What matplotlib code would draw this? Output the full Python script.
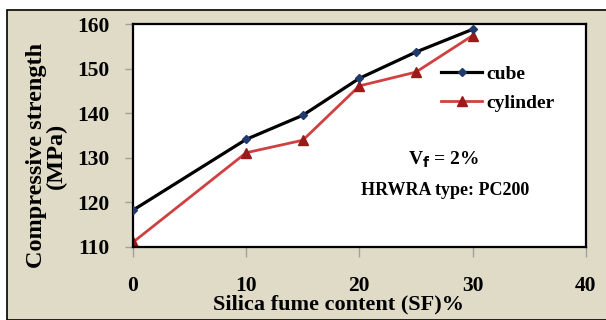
import matplotlib
matplotlib.use("Agg")
import matplotlib.pyplot as plt
from matplotlib.patches import Rectangle

# silica fume content (%) and compressive strength (MPa)
sf = [0, 10, 15, 20, 25, 30]
cube = [118.2, 134.1, 139.5, 147.8, 153.7, 158.8]
cylinder = [111.0, 131.1, 133.9, 146.1, 149.2, 157.4]

x_ticks = [0, 10, 20, 30, 40]
y_ticks = [110, 120, 130, 140, 150, 160]

bg = "#dfdbc6"
plt.rcParams["font.family"] = ["Liberation Serif", "DejaVu Serif"]
plt.rcParams["font.weight"] = "bold"

fig = plt.figure(figsize=(6.06, 3.20), dpi=100, facecolor="white")
# beige panel with black frame (top & left visible)
fig.patches.append(Rectangle((7 / 606, 0), 1.0, 1 - 10 / 320, transform=fig.transFigure,
                             facecolor=bg, edgecolor="black", linewidth=1.2, zorder=-10))

ax = fig.add_axes([133 / 606, 1 - 246.7 / 320, (585.7 - 133) / 606, (246.7 - 24) / 320])
ax.set_facecolor("white")

ax.plot(sf, cube, color="black", lw=2.3, marker="D", ms=4.5,
        mfc="#1f3a6b", mec="#1f3a6b", label="cube", zorder=3)
ax.plot(sf, cylinder, color="#d04040", lw=2.0, marker="^", ms=6.5,
        mfc="#9a1a1a", mec="#9a1a1a", label="cylinder", zorder=2)

ax.set_xlim(0, 40)
ax.set_ylim(110, 160)
ax.set_xticks(x_ticks)
ax.set_yticks(y_ticks)
ax.tick_params(direction="out", length=7, width=1, color="#a0a0a0",
               labelsize=15.5, pad=14)
ax.tick_params(axis="y", length=6, pad=11)
for s in ax.spines.values():
    s.set_linewidth(1.6)
    s.set_color("black")

for lab in ax.get_xticklabels() + ax.get_yticklabels():
    lab.set_fontweight("bold")

ax.set_xlabel("Silica fume content (SF)%", fontsize=16, fontweight="bold", labelpad=0)
ax.xaxis.set_label_coords(0.453, -0.215)
ax.set_ylabel("Compressive strength\n(MPa)", fontsize=17.5, fontweight="bold",
              linespacing=0.95)
ax.yaxis.set_label_coords(-0.146, 0.41)

leg = ax.legend(loc="upper left", bbox_to_anchor=(0.664, 0.85), frameon=False,
                prop={"size": 14, "weight": "bold"}, handlelength=2.1,
                handletextpad=0.2, labelspacing=0.6, borderaxespad=0)

ax.text(27.4, 129.5, r"V$_\mathbf{f}$ = 2%", ha="center", va="center",
        fontsize=14, fontweight="bold")
ax.text(27.6, 122.7, "HRWRA type: PC200", ha="center", va="center",
        fontsize=13, fontweight="bold")

fig.savefig("out.png", dpi=100, facecolor=fig.get_facecolor())
